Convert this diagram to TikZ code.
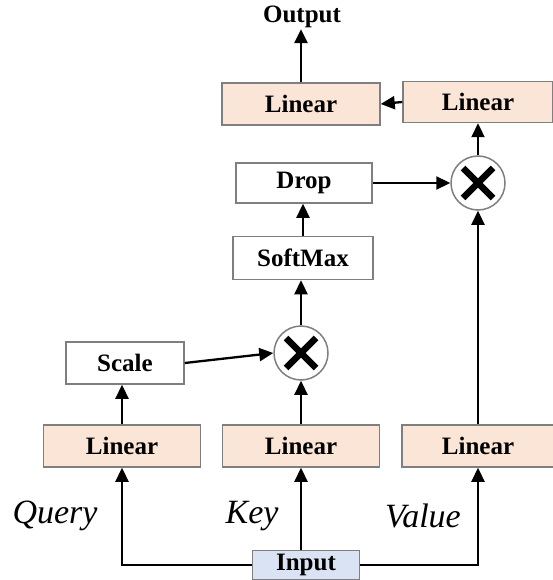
\documentclass[tikz,border=0pt]{standalone}
\usepackage{fontspec}
\setmainfont{Liberation Serif}
\usetikzlibrary{arrows.meta}
\definecolor{peach}{HTML}{FBE5D6}
\definecolor{inblue}{HTML}{DAE3F3}
\definecolor{bord}{HTML}{7F7F7F}
\begin{document}
\begin{tikzpicture}[x=1pt,y=-1pt,
  box/.style={draw=bord, line width=1.5pt, minimum height=42pt, inner sep=0pt,
    font=\fontsize{25}{27}\selectfont\bfseries, text=black},
  lin/.style={box, fill=peach},
  wbox/.style={box, fill=white},
  mul/.style={circle, draw=bord, line width=1.5pt, minimum size=54pt, inner sep=0pt, fill=white},
  cross/.style={line width=6.5pt, black},
  arr/.style={-{Triangle[length=14pt,width=13pt]}, line width=2.3pt},
  lab/.style={font=\fontsize{34}{36}\selectfont\itshape, inner sep=0pt}]
\useasboundingbox (0,0) rectangle (552,580);
% nodes
\node[font=\fontsize{25}{27}\selectfont\bfseries, inner sep=1pt] (out) at (302,17) {Output};
\node[lin, minimum width=158pt] (linTL) at (301,104) {Linear};
\node[lin, minimum width=150pt, minimum height=41pt] (linTR) at (478,102) {Linear};
\node[wbox, minimum width=136pt, minimum height=40pt] (drop) at (304,183) {Drop};
\node[mul] (mulT) at (478,183) {};
\node[wbox, minimum width=140pt, minimum height=43pt] (soft) at (303,258) {SoftMax};
\node[mul] (mulB) at (301,353) {};
\node[wbox, minimum width=118pt] (scale) at (125,363) {Scale};
\node[lin, minimum width=157pt] (linQ) at (122,446) {Linear};
\node[lin, minimum width=157pt] (linK) at (301,446) {Linear};
\node[lin, minimum width=152pt] (linV) at (478,446) {Linear};
\node[box, fill=inblue, minimum width=107pt, minimum height=29pt] (input) at (306,565) {Input};
\node[lab] (q) at (55,516) {Query};
\node[lab] (k) at (252,516) {Key};
\node[lab] (v) at (423,516) {Value};
% crosses
\foreach \m in {mulT,mulB}{
  \draw[cross] ([shift={(-15,-15)}]\m.center) -- ([shift={(15,15)}]\m.center);
  \draw[cross] ([shift={(-15,15)}]\m.center) -- ([shift={(15,-15)}]\m.center);
}
% connectors
\draw[arr] (input.west) -| (linQ.south);
\draw[arr] (input.east) -| (linV.south);
\draw[arr] (input.north -| linK.south) -- (linK.south);
\draw[arr] (linQ.north) -- (linQ.north |- scale.south);
\draw[arr] (linK.north) -- (mulB.south);
\draw[arr] (scale.east) -- (mulB.west);
\draw[arr] (mulB.north) -- (mulB.north |- soft.south);
\draw[arr] (soft.north) -- (soft.north |- drop.south);
\draw[arr] (drop.east) -- (mulT.west);
\draw[arr] (linV.north) -- (mulT.south);
\draw[arr] (mulT.north) -- (mulT.north |- linTR.south);
\draw[arr] (linTR.west) -- (linTL.east);
\draw[arr] (linTL.north) -- (linTL.north |- out.south);
\end{tikzpicture}
\end{document}
